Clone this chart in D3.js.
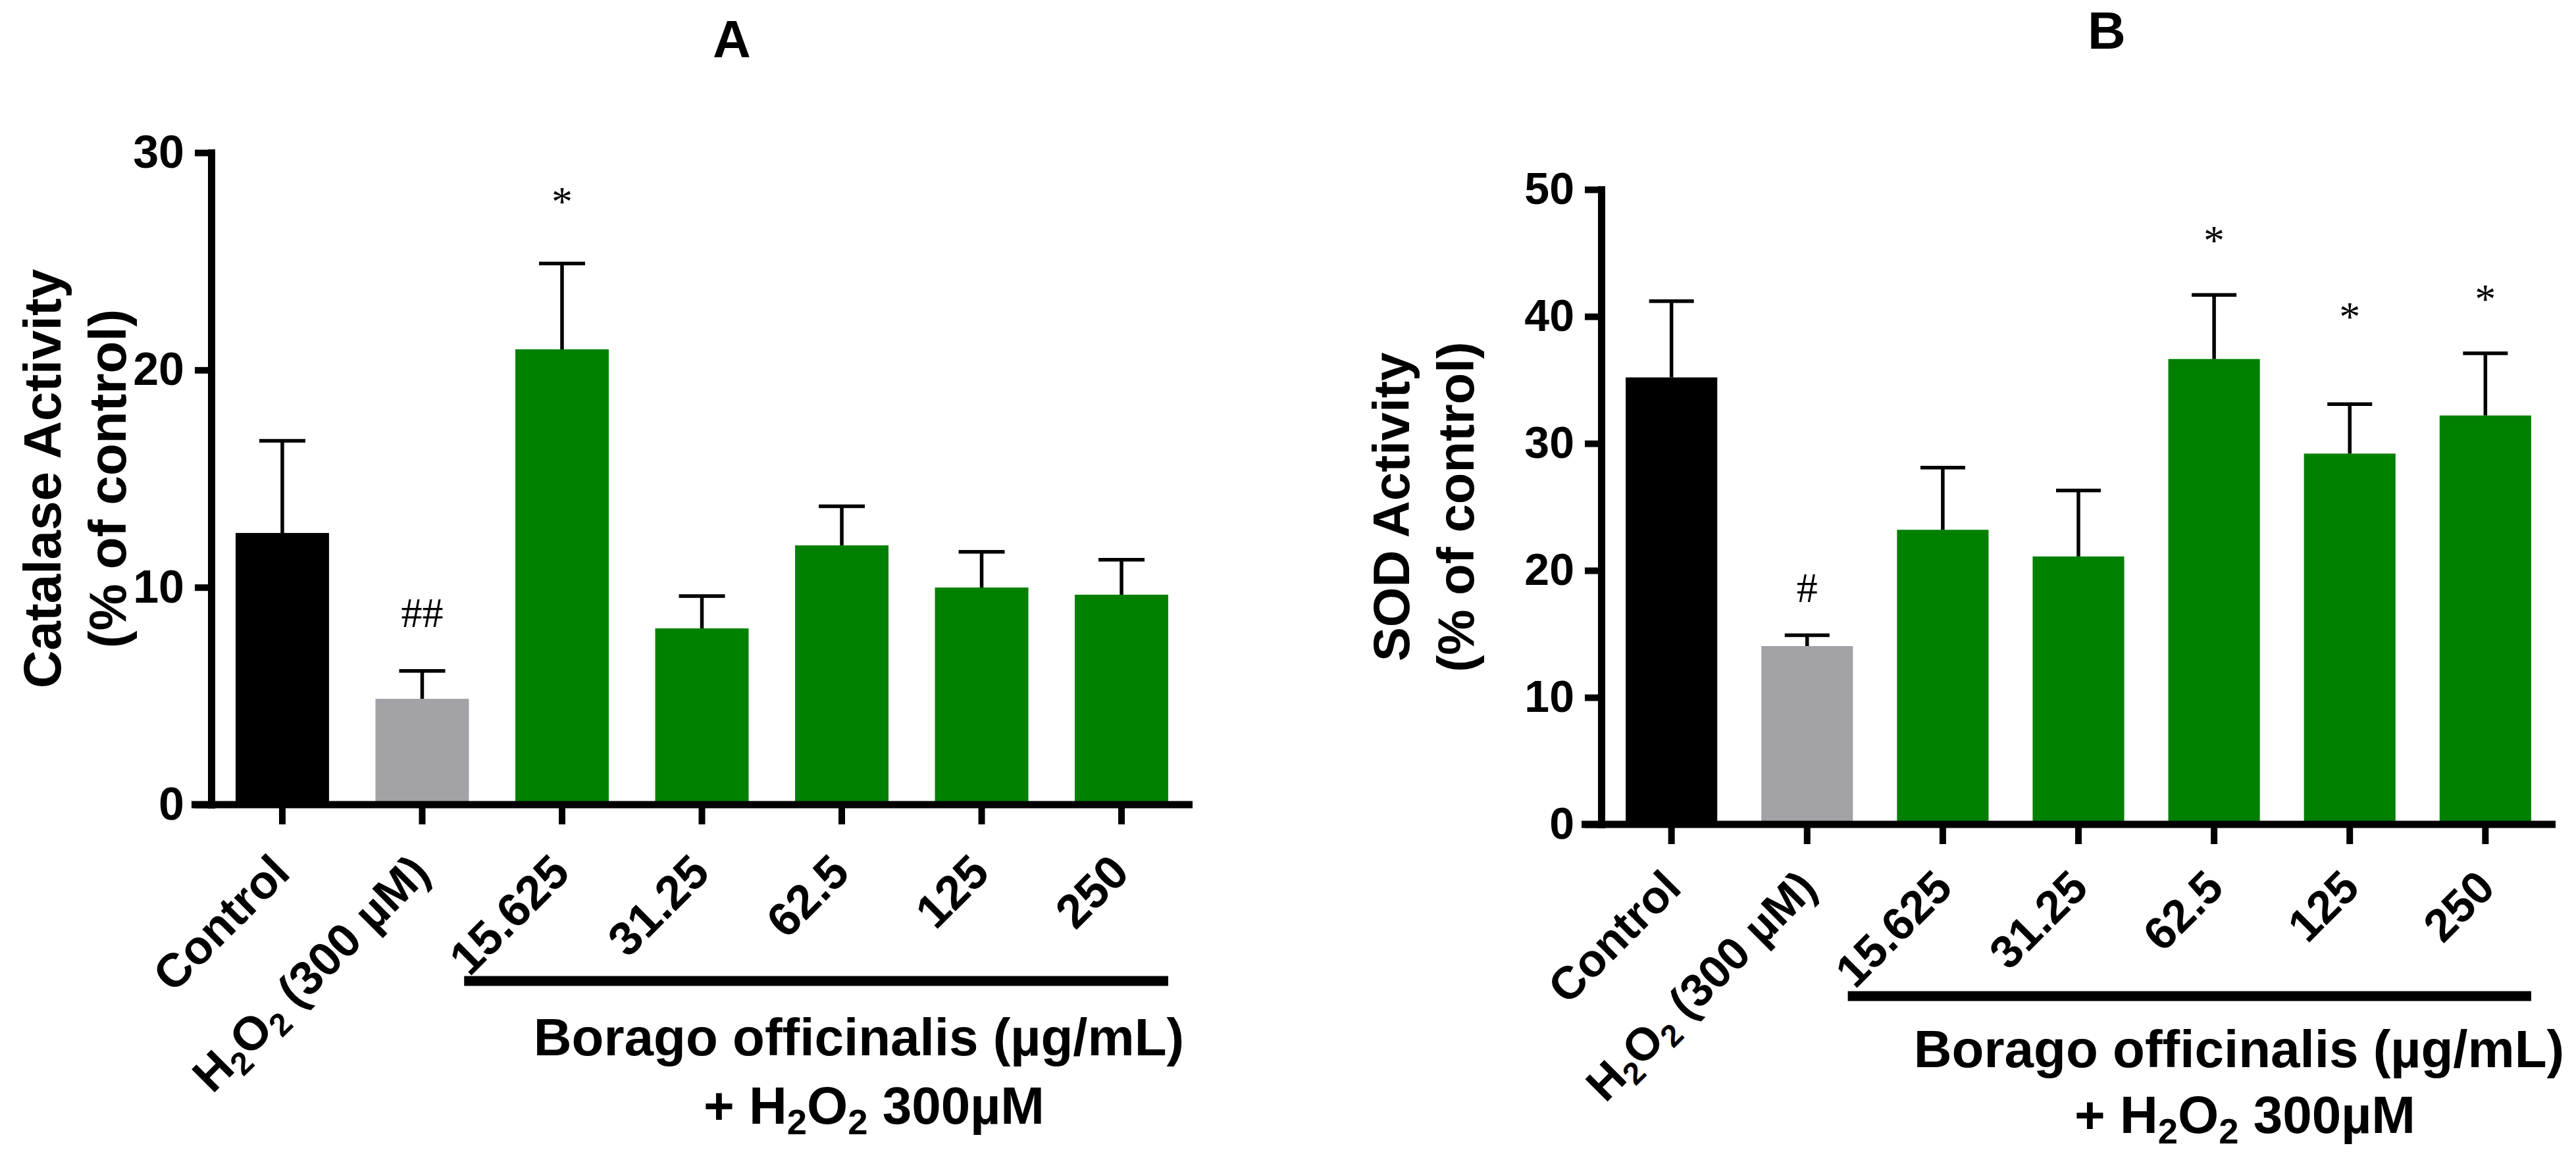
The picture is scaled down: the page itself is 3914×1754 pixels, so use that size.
<!DOCTYPE html>
<html lang="en">
<head>
  <meta charset="UTF-8">
  <title>Catalase and SOD activity</title>
  <script src="https://d3js.org/d3.v7.min.js"></script>
  <style>
    body, html {
      margin: 0;
      padding: 0;
      overflow: hidden;
      background: #ffffff;
    }
  </style>
</head>
<body>
  <script>
    // data
    const categories = ["Control", "H_2O_2 (300 µM)", "15.625", "31.25", "62.5", "125", "250"];

    const catalaseMean = [12.5, 4.87, 20.95, 8.11, 11.93, 9.99, 9.66];
    const catalaseSem = [4.24, 1.28, 3.95, 1.49, 1.8, 1.64, 1.61];
    const catalaseMarks = ["", "##", "*", "", "", "", ""];
    const catalaseMarkAt = [0, 8.84, 28.0, 0, 0, 0, 0];
    const catalaseTicks = [0, 10, 20, 30];

    const sodMean = [35.2, 14.04, 23.2, 21.1, 36.65, 29.2, 32.2];
    const sodSem = [6.0, 0.86, 4.9, 5.2, 5.05, 3.9, 4.9];
    const sodMarks = ["", "#", "", "", "*", "*", "*"];
    const sodMarkAt = [0, 18.65, 0, 0, 46.4, 40.4, 41.8];
    const sodTicks = [0, 10, 20, 30, 40, 50];

    const groupLabel = ["Borago officinalis (µg/mL)", "+ H_2O_2 300µM"];

    const barColors = ["#000000", "#a2a2a7", "#008000", "#008000", "#008000", "#008000", "#008000"];
    const sans = "'Liberation Sans', Arial, Helvetica, sans-serif";
    const serif = "'Liberation Serif', 'Times New Roman', serif";

    const svg = d3.select("body")
      .append("svg")
      .attr("width", 3914)
      .attr("height", 1754);

    // writes "H_2O_2" style strings as tspans with small lowered digits
    function richText(sel, str, size) {
      const parts = str.split(/(_\d)/).filter(s => s.length);
      const drop = size * 0.2;
      let lowered = false;
      parts.forEach(s => {
        if (s[0] === "_") {
          sel.append("tspan")
            .attr("font-size", size * 0.68)
            .attr("dy", lowered ? 0 : drop)
            .text(s.slice(1));
          lowered = true;
        } else {
          sel.append("tspan")
            .attr("dy", lowered ? -drop : 0)
            .text(s);
          lowered = false;
        }
      });
    }

    function drawPanel(p) {
      const g = svg.append("g");

      const x = d3.scaleBand()
        .domain(categories)
        .range([p.axisX, p.axisEnd])
        .paddingInner(p.padIn)
        .paddingOuter(p.padOut);

      const y = d3.scaleLinear()
        .domain([0, p.max])
        .range([p.y0, p.yTop]);

      const bw = x.bandwidth();

      // bars
      g.selectAll("rect.bar")
        .data(categories)
        .join("rect")
        .attr("class", "bar")
        .attr("x", d => x(d))
        .attr("y", (d, i) => y(p.mean[i]))
        .attr("width", bw)
        .attr("height", (d, i) => y(0) - y(p.mean[i]))
        .attr("fill", (d, i) => barColors[i]);

      // error bars (upper only)
      const err = g.selectAll("g.err")
        .data(categories)
        .join("g")
        .attr("class", "err")
        .attr("stroke", "#000")
        .attr("stroke-width", 5.5);

      err.append("line")
        .attr("x1", d => x(d) + bw / 2)
        .attr("x2", d => x(d) + bw / 2)
        .attr("y1", (d, i) => y(p.mean[i]))
        .attr("y2", (d, i) => y(p.mean[i] + p.sem[i]));

      err.append("line")
        .attr("x1", d => x(d) + bw / 2 - p.cap / 2)
        .attr("x2", d => x(d) + bw / 2 + p.cap / 2)
        .attr("y1", (d, i) => y(p.mean[i] + p.sem[i]))
        .attr("y2", (d, i) => y(p.mean[i] + p.sem[i]));

      // significance marks
      g.selectAll("text.mark")
        .data(categories)
        .join("text")
        .attr("class", "mark")
        .attr("x", d => x(d) + bw / 2)
        .attr("y", (d, i) => y(p.markAt[i]) + (p.marks[i] === "*" ? 30 : 22))
        .attr("text-anchor", "middle")
        .attr("font-family", serif)
        .attr("font-size", 64)
        .text((d, i) => p.marks[i]);

      // y axis
      const yAxis = g.append("g")
        .attr("transform", `translate(${p.axisX},0)`)
        .call(d3.axisLeft(y).tickValues(p.ticks).tickSize(25).tickSizeOuter(0).tickPadding(16));

      yAxis.select(".domain")
        .attr("stroke-width", 11)
        .attr("stroke-linecap", "square");
      yAxis.selectAll(".tick line").attr("stroke-width", 10);
      yAxis.selectAll(".tick text")
        .attr("font-family", sans)
        .attr("font-weight", "bold")
        .attr("font-size", p.tickFont)
        .attr("fill", "#000");

      // x axis
      const xAxis = g.append("g")
        .attr("transform", `translate(0,${p.y0})`)
        .call(d3.axisBottom(x).tickSize(30).tickFormat(""));
      xAxis.select(".domain").remove();
      xAxis.selectAll(".tick line").attr("stroke-width", 10);

      g.append("line")
        .attr("x1", p.axisX - 30)
        .attr("x2", p.axisEnd)
        .attr("y1", p.y0)
        .attr("y2", p.y0)
        .attr("stroke", "#000")
        .attr("stroke-width", 11);

      // rotated category labels
      g.selectAll("text.cat")
        .data(categories)
        .join("text")
        .attr("class", "cat")
        .attr("transform", d => `translate(${x(d) + bw / 2 + p.labDx},${p.y0 + p.labDy}) rotate(-45)`)
        .attr("text-anchor", "end")
        .attr("font-family", sans)
        .attr("font-weight", "bold")
        .attr("font-size", p.labFont)
        .each(function (d) { richText(d3.select(this), d, p.labFont); });

      // group bracket under the extract doses
      const first = categories[2];
      const last = categories[categories.length - 1];
      g.append("line")
        .attr("x1", x(first) + bw / 2 - 0.7 * x.step())
        .attr("x2", x(last) + bw)
        .attr("y1", p.groupY)
        .attr("y2", p.groupY)
        .attr("stroke", "#000")
        .attr("stroke-width", 15);

      groupLabel.forEach((s, i) => {
        const t = g.append("text")
          .attr("x", p.groupTextX[i])
          .attr("y", p.groupTextY + i * p.groupLine)
          .attr("text-anchor", "middle")
          .attr("font-family", sans)
          .attr("font-weight", "bold")
          .attr("font-size", p.groupFont);
        richText(t, s, p.groupFont);
      });

      // y axis title
      const midY = (p.y0 + p.yTop) / 2;
      p.yTitle.forEach((s, i) => {
        g.append("text")
          .attr("transform", `translate(${p.yTitleX[i]},${midY}) rotate(-90)`)
          .attr("text-anchor", "middle")
          .attr("font-family", sans)
          .attr("font-weight", "bold")
          .attr("font-size", p.yTitleFont)
          .text(s);
      });

      // panel letter
      g.append("text")
        .attr("x", p.letterX)
        .attr("y", p.letterY)
        .attr("text-anchor", "middle")
        .attr("font-family", sans)
        .attr("font-weight", "bold")
        .attr("font-size", 80)
        .text(p.letter);
    }

    drawPanel({
      letter: "A", letterX: 1112, letterY: 87,
      mean: catalaseMean, sem: catalaseSem, marks: catalaseMarks, markAt: catalaseMarkAt,
      ticks: catalaseTicks, max: 30,
      axisX: 321, axisEnd: 1812, y0: 1223, yTop: 232,
      padIn: 0.332, padOut: 0.174, cap: 70,
      tickFont: 70, labFont: 72, labDx: 15, labDy: 107,
      groupY: 1491, groupTextX: [1305, 1328], groupTextY: 1604, groupLine: 104, groupFont: 80,
      yTitle: ["Catalase Activity", "(% of control)"], yTitleX: [92, 191], yTitleFont: 80
    });

    drawPanel({
      letter: "B", letterX: 3201, letterY: 74,
      mean: sodMean, sem: sodSem, marks: sodMarks, markAt: sodMarkAt,
      ticks: sodTicks, max: 50,
      axisX: 2433, axisEnd: 3883, y0: 1253, yTop: 288,
      padIn: 0.325, padOut: 0.18, cap: 68,
      tickFont: 68, labFont: 70, labDx: 18, labDy: 100,
      groupY: 1514, groupTextX: [3402, 3411], groupTextY: 1622, groupLine: 100, groupFont: 80,
      yTitle: ["SOD Activity", "(% of control)"], yTitleX: [2141, 2239], yTitleFont: 78
    });
  </script>
</body>
</html>
